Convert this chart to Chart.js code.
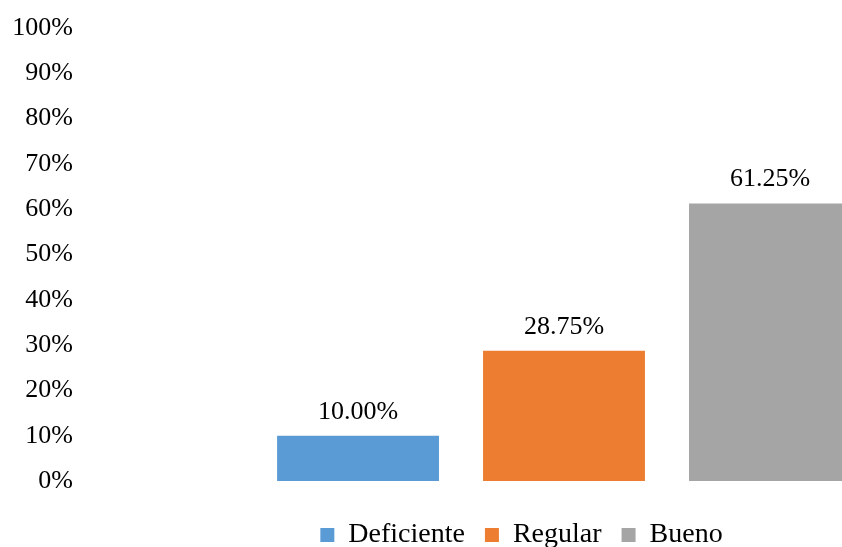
<!DOCTYPE html>
<html>
<head>
<meta charset="utf-8">
<script src="https://cdn.jsdelivr.net/npm/chart.js@4"></script>
<style>
  html, body { margin: 0; padding: 0; background: #fff; overflow: hidden; }
  #wrap { width: 1060px; height: 547px; }
</style>
</head>
<body>
<div id="wrap"><canvas id="barChart" width="1060" height="547"></canvas></div>
<script>
const categories = [''];
const seriesNames = ['Deficiente', 'Regular', 'Bueno'];
const seriesValues = [10.00, 28.75, 61.25];
const seriesColors = ['#5B9BD5', '#ED7D31', '#A5A5A5'];
const yTicks = [0, 10, 20, 30, 40, 50, 60, 70, 80, 90, 100];

const serif = '"Liberation Serif", "Times New Roman", serif';
Chart.defaults.font.family = serif;
Chart.defaults.font.size = 26;
Chart.defaults.color = '#000';

// etiquetas encima de cada barra
const barLabels = {
    id: 'barLabels',
    afterLayout(chart) {
        // subir la leyenda (el padding grande la empuja hacia abajo)
        const lg = chart.legend;
        lg.top -= 16;
        lg.bottom = chart.height;
        lg.height = lg.bottom - lg.top;
    },
    afterDatasetsDraw(chart) {
        const ctx = chart.ctx;
        ctx.save();
        ctx.font = '26px ' + serif;
        ctx.fillStyle = '#000';
        ctx.textAlign = 'center';
        ctx.textBaseline = 'bottom';
        chart.data.datasets.forEach((ds, i) => {
            chart.getDatasetMeta(i).data.forEach((bar, j) => {
                ctx.fillText(ds.data[j].toFixed(2) + '%', bar.x, bar.y - 11);
            });
        });
        ctx.restore();
    }
};

const barCtx = document.getElementById('barChart');
new Chart(barCtx, {
    type: 'bar',
    data: {
        labels: categories,
        datasets: seriesNames.map((name, i) => ({
            label: name,
            data: [seriesValues[i]],
            backgroundColor: seriesColors[i],
            categoryPercentage: 0.645,
            barPercentage: 0.786
        }))
    },
    options: {
        responsive: false,
        animation: false,
        layout: { padding: { top: 28, right: 17, left: 0, bottom: 0 } },
        scales: {
            x: {
                grid: { display: false },
                border: { display: false },
                ticks: { display: false },
                afterFit: s => { s.height = 36; }
            },
            y: {
                min: 0,
                max: 100,
                grid: { display: false },
                border: { display: false },
                afterFit: s => { s.width = 85; },
                afterBuildTicks: s => { s.ticks = yTicks.map(v => ({ value: v })); },
                ticks: {
                    padding: 4,
                    callback: v => v + '%'
                }
            }
        },
        plugins: {
            tooltip: { enabled: false },
            legend: {
                position: 'bottom',
                maxHeight: 30,
                labels: {
                    font: { size: 28 },
                    boxWidth: 14,
                    boxHeight: 14,
                    padding: 20
                }
            }
        }
    },
    plugins: [barLabels]
});
</script>
</body>
</html>
